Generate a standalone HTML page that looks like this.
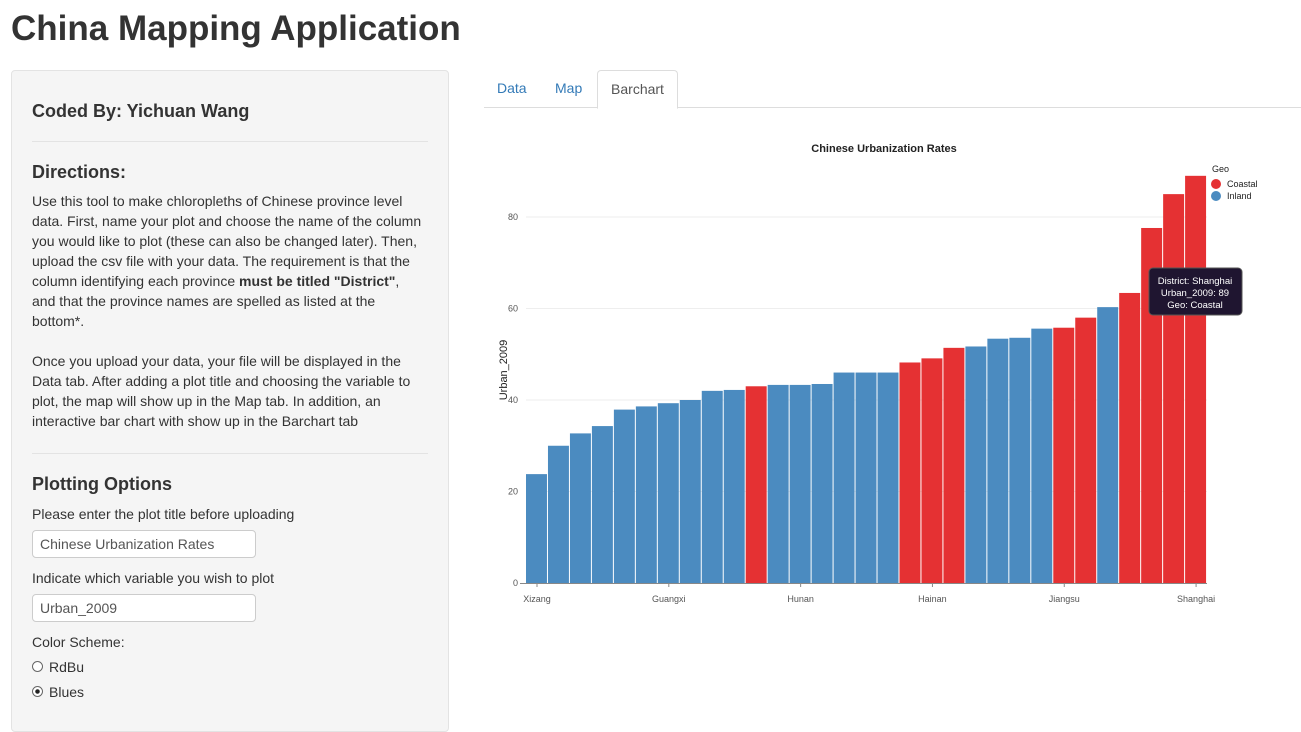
<!DOCTYPE html>
<html><head><meta charset="utf-8">
<style>
body{margin:0;width:1301px;height:709px;overflow:hidden;background:#fff;font-family:"Liberation Sans",Arial,sans-serif;color:#333;position:relative}
.abs{position:absolute}
h1{position:absolute;left:11px;top:9px;margin:0;font-size:35px;font-weight:bold;color:#333}
.well{position:absolute;left:11px;top:70px;width:436px;height:660px;background:#f5f5f5;border:1px solid #e3e3e3;border-radius:4px}
.p{font-size:14px;line-height:20px;color:#333}
.hr{position:absolute;left:20px;width:396px;height:0;border-top:1px solid #e3e3e3}
.inp{position:absolute;left:20px;width:215px;height:26px;background:#fff;border:1px solid #ccc;border-radius:4px;font-size:14px;line-height:26px;padding-left:7px;color:#555}
.tab{position:absolute;top:70px;height:37px;font-size:14px;line-height:37px;color:#337ab7}
</style></head><body>
<h1>China Mapping Application</h1>
<div class="well">
 <div class="abs" style="left:20px;top:30px;font-size:18px;font-weight:bold">Coded By: Yichuan Wang</div>
 <div class="hr" style="top:70px"></div>
 <div class="abs" style="left:20px;top:91px;font-size:18px;font-weight:bold">Directions:</div>
 <div class="abs p" style="left:20px;top:120px;width:390px">Use this tool to make chloropleths of Chinese province level data. First, name your plot and choose the name of the column you would like to plot (these can also be changed later). Then, upload the csv file with your data. The requirement is that the column identifying each province <b>must be titled "District"</b>, and that the province names are spelled as listed at the bottom*.<br><br>Once you upload your data, your file will be displayed in the Data tab. After adding a plot title and choosing the variable to plot, the map will show up in the Map tab. In addition, an interactive bar chart with show up in the Barchart tab</div>
 <div class="hr" style="top:382px"></div>
 <div class="abs" style="left:20px;top:403px;font-size:18px;font-weight:bold">Plotting Options</div>
 <div class="abs p" style="left:20px;top:433px">Please enter the plot title before uploading</div>
 <div class="inp" style="top:459px">Chinese Urbanization Rates</div>
 <div class="abs p" style="left:20px;top:497px">Indicate which variable you wish to plot</div>
 <div class="inp" style="top:523px">Urban_2009</div>
 <div class="abs p" style="left:20px;top:561px">Color Scheme:</div>
 <div class="abs p" style="left:20px;top:586px"><span style="display:inline-block;width:9px;height:9px;border:1px solid #666;border-radius:50%;background:#fff;margin-right:6px"></span>RdBu</div>
 <div class="abs p" style="left:20px;top:611px"><span style="display:inline-block;width:9px;height:9px;border:1px solid #666;border-radius:50%;background:radial-gradient(#222 30%,#fff 40%);margin-right:6px"></span>Blues</div>
</div>
<div class="abs" style="left:484px;top:107px;width:817px;border-top:1px solid #ddd"></div>
<div class="tab" style="left:497px">Data</div>
<div class="tab" style="left:555px">Map</div>
<div class="tab" style="left:597px;width:79px;text-align:center;color:#555;background:#fff;border:1px solid #ddd;border-bottom-color:#fff;border-radius:4px 4px 0 0;height:37px">Barchart</div>
<svg id="chart" class="abs" style="left:0;top:0" width="1301" height="709"></svg>
<script>
const districts=["Xizang","Guizhou","Gansu","Yunnan","Henan","Sichuan","Guangxi","Anhui","Qinghai","Jiangxi","Hebei","Xinjiang","Hunan","Hubei","Shaanxi","Shanxi","Ningxia","Shandong","Hainan","Fujian","Chongqing","Jilin","Heilongjiang","Inner Mongolia","Jiangsu","Zhejiang","Liaoning","Guangdong","Tianjin","Beijing","Shanghai"];
const values=[23.8,30,32.7,34.3,37.9,38.6,39.3,40,42,42.2,43,43.3,43.3,43.5,46,46,46,48.2,49.1,51.4,51.7,53.4,53.6,55.6,55.8,58,60.3,63.4,77.6,85,89];
const geo=["I","I","I","I","I","I","I","I","I","I","C","I","I","I","I","I","I","C","C","C","I","I","I","I","C","C","I","C","C","C","C"];
const yTicks=[0,20,40,60,80];
const labelIdx=[0,6,12,18,24,30];
const svg=document.getElementById('chart');const NS='http://www.w3.org/2000/svg';
function mk(t,a,txt){const e=document.createElementNS(NS,t);for(const k in a)e.setAttribute(k,a[k]);if(txt!==undefined)e.textContent=txt;svg.appendChild(e);return e;}
const x0=526,step=21.97,y0=583,ppu=4.575;
const X=i=>x0+i*step, Y=v=>y0-v*ppu;
const col={C:"#e53133",I:"#4b8bc0"};
let e;
yTicks.forEach(t=>{
 if(t>0){e=mk('line',{x1:x0,x2:1207,y1:Y(t),y2:Y(t),stroke:'#eee'});}
 e=mk('text',{x:518,y:Y(t)+3,'text-anchor':'end','font-size':9,fill:'#555'},t);
});
values.forEach((v,i)=>{
 e=mk('rect',{x:X(i),y:Y(v),width:step-1,height:v*ppu,fill:col[geo[i]]});
 
 
});
e=mk('line',{x1:520,x2:1207,y1:y0+0.5,y2:y0+0.5,stroke:'#888'});
labelIdx.forEach(i=>{
 const cx=X(i)+step/2;
 mk('line',{x1:cx,x2:cx,y1:y0,y2:y0+4,stroke:'#888'});
 e=mk('text',{x:cx,y:602,'text-anchor':'middle','font-size':9,fill:'#555'},districts[i]);
});
e=mk('text',{x:0,y:0,transform:'translate(507,370) rotate(-90)','text-anchor':'middle','font-size':11,fill:'#222'},'Urban_2009');
e=mk('text',{x:884,y:152,'text-anchor':'middle','font-size':11,'font-weight':'bold',fill:'#222'},'Chinese Urbanization Rates');
e=mk('text',{x:1212,y:172,'font-size':9,fill:'#222'},'Geo');
[["Coastal","C",184],["Inland","I",196]].forEach(([n,k,y])=>{
 e=mk('circle',{cx:1216,cy:y,r:5,fill:col[k]});
 e=mk('text',{x:1227,y:y+3,'font-size':9,fill:'#222'},n);
});
e=mk('rect',{x:1149,y:268,width:93,height:47,rx:4,fill:'#1f1530',stroke:'#555'});
['District: Shanghai','Urban_2009: 89','Geo: Coastal'].forEach((t,i)=>{mk('text',{x:1195,y:284+i*12,'text-anchor':'middle','font-size':9.5,fill:'#fff'},t);});
</script>
</body></html>
